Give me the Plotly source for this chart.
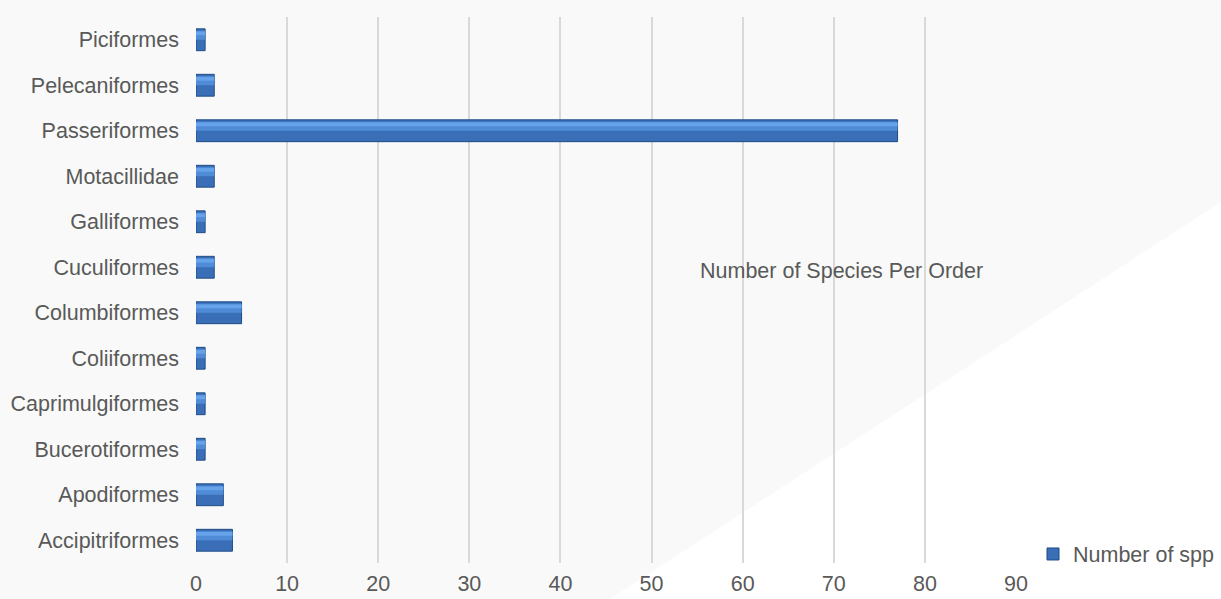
import plotly.graph_objects as go

categories = ["Accipitriformes", "Apodiformes", "Bucerotiformes", "Caprimulgiformes",
              "Coliiformes", "Columbiformes", "Cuculiformes", "Galliformes",
              "Motacillidae", "Passeriformes", "Pelecaniformes", "Piciformes"]
values = [4, 3, 1, 1, 1, 5, 2, 1, 2, 77, 2, 1]
x_ticks = [0, 10, 20, 30, 40, 50, 60, 70, 80, 90]
series_name = "Number of spp"
title_text = "Number of Species Per Order"

W, H = 1221, 599
L, R, T, B = 196, 205, 17, 36
pw, ph = W - L - R, H - T - B

def px(x):
    return (x - L) / pw

def py(y):
    return (H - B - y) / ph

FONT = "Liberation Sans, Arial, sans-serif"
TXT = "#595959"
FS = 21.5

fig = go.Figure()
# main bar body (darker lower part of the bevel)
fig.add_trace(go.Bar(
    y=categories, x=values, orientation="h", name=series_name,
    width=0.48,
    marker=dict(color="#3a6fb8", line=dict(color="#1f4a85", width=1)),
    showlegend=True, hoverinfo="x+y",
))
# upper, lighter part of the bevel
fig.add_trace(go.Bar(
    y=categories, x=values, orientation="h", name=series_name,
    width=0.20, offset=0.0,
    marker=dict(color="#4f8bd6", line=dict(width=0)),
    showlegend=False, hoverinfo="skip",
))
fig.add_trace(go.Bar(
    y=categories, x=values, orientation="h", name=series_name,
    width=0.08, offset=0.1,
    marker=dict(color="#66a3ea", line=dict(width=0)),
    showlegend=False, hoverinfo="skip",
))

path = (f"M {px(0)} {py(0)} L {px(W)} {py(0)} L {px(W)} {py(202)} "
        f"L {px(610)} {py(H)} L {px(0)} {py(H)} Z")

fig.update_layout(
    width=W, height=H,
    margin=dict(l=L, r=R, t=T, b=B, autoexpand=False),
    paper_bgcolor="#ffffff",
    plot_bgcolor="rgba(0,0,0,0)",
    barmode="overlay",
    font=dict(family=FONT, size=FS, color=TXT),
    shapes=[dict(type="path", xref="paper", yref="paper", path=path,
                 fillcolor="#f8f9f8", line=dict(width=0), layer="below")],
    annotations=[dict(text=title_text, xref="paper", yref="paper",
                      x=px(841), y=py(271), xanchor="center", yanchor="middle",
                      showarrow=False, font=dict(family=FONT, size=FS, color=TXT))],
    legend=dict(x=px(1033), y=py(554), xanchor="left", yanchor="middle",
                bgcolor="rgba(0,0,0,0)", borderwidth=0,
                font=dict(family=FONT, size=FS, color=TXT),
                itemwidth=30),
    xaxis=dict(range=[0, 90], tickvals=x_ticks, showgrid=True,
               gridcolor="#d9d9d9", gridwidth=1.5, zeroline=False,
               showline=False, ticks="", ticklabelstandoff=5,
               tickfont=dict(family=FONT, size=FS, color=TXT)),
    yaxis=dict(categoryorder="array", categoryarray=categories,
               showgrid=False, zeroline=False, showline=False, ticks="",
               ticklabelstandoff=16,
               tickfont=dict(family=FONT, size=FS, color=TXT)),
    showlegend=True,
)

fig.write_html("out.html")
